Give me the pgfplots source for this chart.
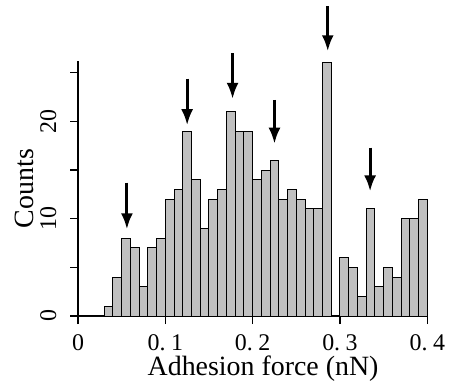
\documentclass[border=0pt]{standalone}
\usepackage{fontspec}
\setmainfont{Liberation Serif}
\usepackage{pgfplots}
\pgfplotsset{compat=1.18}
\usetikzlibrary{arrows.meta}
\definecolor{bargray}{RGB}{192,192,192}
\pgfplotstableread{
x y
0.00 0
0.01 0
0.02 0
0.03 1
0.04 4
0.05 8
0.06 7
0.07 3
0.08 7
0.09 8
0.10 12
0.11 13
0.12 19
0.13 14
0.14 9
0.15 12
0.16 13
0.17 21
0.18 19
0.19 19
0.20 14
0.21 15
0.22 16
0.23 12
0.24 13
0.25 12
0.26 11
0.27 11
0.28 26
0.29 0
0.30 6
0.31 5
0.32 2
0.33 11
0.34 3
0.35 5
0.36 4
0.37 10
0.38 10
0.39 12
0.40 12
}\histdata
\pgfplotstableread{
x y v
0.056 13.7 -4.8
0.125 24.4 -4.8
0.177 27.0 -4.7
0.225 22.2 -4.5
0.286 31.8 -4.6
0.3345 17.3 -4.5
}\arrowdata
\begin{document}
\begin{tikzpicture}
\useasboundingbox (-78bp,-69bp) rectangle (375bp,316bp);
\begin{axis}[
  at={(0,0)}, anchor=south west,
  scale only axis, width=349.3bp, height=255bp,
  xmin=0, xmax=0.4, ymin=0, ymax=26.2,
  clip=false,
  axis x line=bottom, axis y line=left,
  axis line style={-},
  x axis line style={line width=1.2bp},
  y axis line style={line width=2.5bp},
  xtick={0,0.1,0.2,0.3,0.4},
  xticklabels={0, 0.\hspace{5.5bp}1, 0.\hspace{5.5bp}2, 0.\hspace{5.5bp}3, 0.\hspace{5.5bp}4},
  ytick={0,5,10,15,20,25},
  yticklabels={0,,10,,20,},
  tick align=outside,
  major tick length=8bp,
  tick style={black, line width=1.2bp},
  tick label style={font=\fontsize{24}{24}\selectfont},
  xticklabel style={anchor=base, yshift=-26bp},
  yticklabel style={rotate=90, anchor=south, yshift=10bp},
  xlabel={Adhesion force (nN)},
  ylabel={Counts},
  every axis x label/.style={at={([yshift=-59bp]axis description cs:0.53,0)}, anchor=base, font=\fontsize{28}{28}\selectfont},
  every axis y label/.style={at={([xshift=-54bp]axis description cs:0,0.5)}, rotate=90, anchor=center, font=\fontsize{28}{28}\selectfont},
]
\addplot[ybar interval, fill=bargray, draw=black, line width=1bp] table[x=x, y=y] {\histdata};
\addplot[black, line width=1bp] coordinates {(0.4,0) (0.4,7)};
\addplot[black, line width=3bp, -{Latex[length=16bp, width=12bp]},
  quiver={u=0, v=\thisrow{v}}] table[x=x, y=y] {\arrowdata};
\end{axis}
\end{tikzpicture}
\end{document}
